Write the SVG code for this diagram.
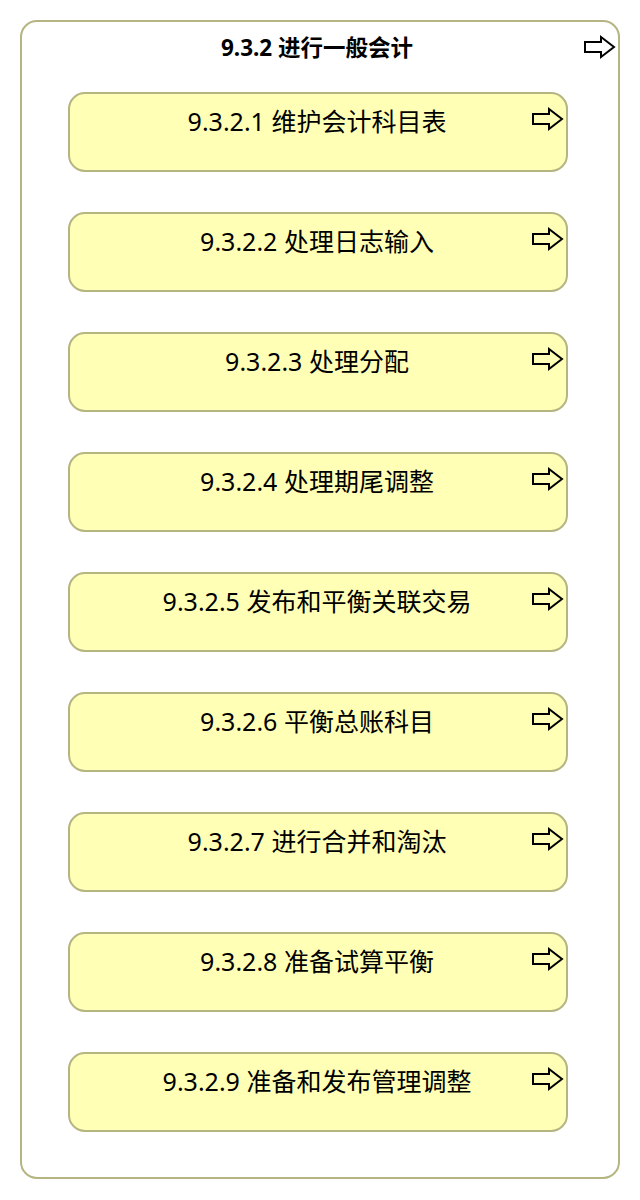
<svg xmlns="http://www.w3.org/2000/svg" width="640" height="1200" viewBox="0 0 640 1200">
<style>
.outer{fill:#ffffff;stroke:#b5b582;stroke-width:2}
.box{fill:#ffffb5;stroke:#b5b582;stroke-width:2}
.t{font-family:"Noto Sans","Noto Sans CJK SC",sans-serif;fill:#000;text-anchor:middle}
.title{font-size:22.5px;font-weight:bold}
.lbl{font-size:25px}
.arr{fill:none;stroke:#000;stroke-width:2;stroke-linejoin:miter}
</style>
<defs>
<path id="arrow" class="arr" d="M0,5 H16 V0 L29,10 L16,20 V15 H0 Z"/>
</defs>
<rect width="640" height="1200" fill="#ffffff"/>
<g id="n932">
<rect class="outer" x="21" y="21" width="598" height="1157" rx="16"/>
<text class="t title" x="317" y="56">9.3.2 进行一般会计</text>
<use href="#arrow" x="585" y="37"/>
</g>
<g id="n9321"><rect class="box" x="69" y="93" width="498" height="78" rx="16"/><text class="t lbl" x="317" y="131">9.3.2.1 维护会计科目表</text><use href="#arrow" x="533" y="109"/></g>
<g id="n9322"><rect class="box" x="69" y="213" width="498" height="78" rx="16"/><text class="t lbl" x="317" y="251">9.3.2.2 处理日志输入</text><use href="#arrow" x="533" y="229"/></g>
<g id="n9323"><rect class="box" x="69" y="333" width="498" height="78" rx="16"/><text class="t lbl" x="317" y="371">9.3.2.3 处理分配</text><use href="#arrow" x="533" y="349"/></g>
<g id="n9324"><rect class="box" x="69" y="453" width="498" height="78" rx="16"/><text class="t lbl" x="317" y="491">9.3.2.4 处理期尾调整</text><use href="#arrow" x="533" y="469"/></g>
<g id="n9325"><rect class="box" x="69" y="573" width="498" height="78" rx="16"/><text class="t lbl" x="317" y="611">9.3.2.5 发布和平衡关联交易</text><use href="#arrow" x="533" y="589"/></g>
<g id="n9326"><rect class="box" x="69" y="693" width="498" height="78" rx="16"/><text class="t lbl" x="317" y="731">9.3.2.6 平衡总账科目</text><use href="#arrow" x="533" y="709"/></g>
<g id="n9327"><rect class="box" x="69" y="813" width="498" height="78" rx="16"/><text class="t lbl" x="317" y="851">9.3.2.7 进行合并和淘汰</text><use href="#arrow" x="533" y="829"/></g>
<g id="n9328"><rect class="box" x="69" y="933" width="498" height="78" rx="16"/><text class="t lbl" x="317" y="971">9.3.2.8 准备试算平衡</text><use href="#arrow" x="533" y="949"/></g>
<g id="n9329"><rect class="box" x="69" y="1053" width="498" height="78" rx="16"/><text class="t lbl" x="317" y="1091">9.3.2.9 准备和发布管理调整</text><use href="#arrow" x="533" y="1069"/></g>
<g id="connectors"></g>
</svg>
